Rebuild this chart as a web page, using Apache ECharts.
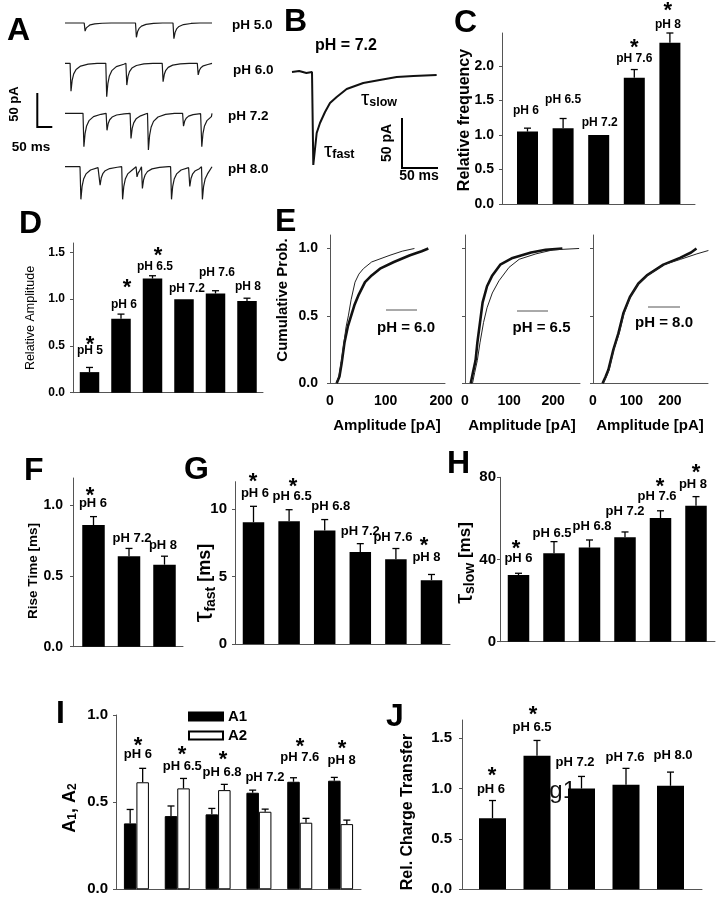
<!DOCTYPE html>
<html><head><meta charset="utf-8">
<script src="https://cdn.jsdelivr.net/npm/echarts@6/dist/echarts.min.js"></script>
<style>html,body{margin:0;padding:0;background:#fff}#c{width:719px;height:899px}</style>
</head><body><div id="c"></div>
<script>
// ================= DATA =================
// Panel A: miniature currents, events as [time ms, amplitude pA]
const aLabels = ['pH 5.0', 'pH 6.0', 'pH 7.2', 'pH 8.0'];
const aEvents50 = [[64, 12], [235, 21], [360, 23]];
const aEvents60 = [[17, 41], [136, 49], [203, 32], [324, 27], [441, 17]];
const aEvents72 = [[60, 49], [137, 25], [217, 37], [275, 54], [392, 19], [453, 49]];
const aEvents80 = [[50, 48], [114, 27], [189, 48], [237, 15], [255, 32], [352, 48], [413, 29], [455, 48]];
// shape of one event: [ms after onset, fraction of amplitude]
const eventShape = [[0, 0], [3, -1], [7, -0.6], [12, -0.38], [20, -0.22], [35, -0.1], [60, -0.03], [90, 0]];
// Panel B: averaged current at pH 7.2, [ms, pA]
const bTrace = [[0, 0], [10, 1], [20, -1], [27.8, 0], [29.6, -93], [34.3, -61], [38.9, -51], [45.9, -40], [52.8, -31],
  [62.1, -25], [76, -17], [99, -11], [122, -8], [145.5, -5], [168.6, -4], [201, -3]];

// Panel C: relative frequency
const cCats = ['pH 6', 'pH 6.5', 'pH 7.2', 'pH 7.6', 'pH 8'];
const cMean = [1.05, 1.10, 1.00, 1.83, 2.34];
const cErr = [0.05, 0.14, 0, 0.12, 0.14];
const cStar = [0, 0, 0, 1, 1];
const cTicks = ['0.0', '0.5', '1.0', '1.5', '2.0'];

// Panel D: relative amplitude
const dCats = ['pH 5', 'pH 6', 'pH 6.5', 'pH 7.2', 'pH 7.6', 'pH 8'];
const dMean = [0.22, 0.79, 1.22, 1.00, 1.06, 0.98];
const dErr = [0.05, 0.05, 0.03, 0, 0.03, 0.03];
const dStar = [1, 1, 1, 0, 0, 0];
const dTicks = ['0.0', '0.5', '1.0', '1.5'];

// Panel E: cumulative amplitude distributions [pA, prob]; thick = control pH 7.2, thin = test pH
const e60Ctrl = [[12, 0], [17, 0.05], [21, 0.15], [26, 0.3], [32, 0.42], [38, 0.5], [44, 0.58], [52, 0.66], [63, 0.75], [75, 0.8], [90, 0.85], [115, 0.9], [144, 0.95], [165, 0.98], [177, 1.0]];
const e60Test = [[11, 0], [16, 0.05], [20, 0.15], [25, 0.3], [29, 0.42], [33, 0.5], [38, 0.62], [45, 0.75], [52, 0.81], [60, 0.85], [75, 0.9], [108, 0.95], [130, 0.98], [152, 1.0]];
const e65Ctrl = [[13, 0], [18, 0.08], [24, 0.17], [28, 0.3], [34, 0.45], [40, 0.6], [50, 0.72], [62, 0.8], [80, 0.88], [108, 0.93], [150, 0.97], [183, 0.99], [221, 1.0]];
const e65Test = [[17, 0], [22, 0.08], [28, 0.17], [34, 0.3], [42, 0.45], [50, 0.56], [62, 0.67], [77, 0.76], [100, 0.86], [123, 0.92], [161, 0.96], [200, 0.99], [259, 1.0]];
const e80Ctrl = [[25, 0], [33, 0.05], [40, 0.1], [53, 0.25], [66, 0.37], [79, 0.52], [96, 0.64], [118, 0.74], [140, 0.8], [183, 0.88], [226, 0.93], [255, 0.97], [269, 1.0]];
const e80Test = [[27, 0], [35, 0.05], [42, 0.1], [54, 0.25], [68, 0.37], [81, 0.52], [97, 0.64], [118, 0.74], [142, 0.8], [185, 0.88], [228, 0.92], [270, 0.96], [300, 0.985]];
const eLabels = ['pH = 6.0', 'pH = 6.5', 'pH = 8.0'];
const eYTicks = ['0.0', '0.5', '1.0'];
const eXTicks = [0, 100, 200];

// Panel F: rise time
const fCats = ['pH 6', 'pH 7.2', 'pH 8'];
const fMean = [0.86, 0.64, 0.58];
const fErr = [0.06, 0.055, 0.06];
const fStar = [1, 0, 0];
const fTicks = ['0.0', '0.5', '1.0'];

// Panel G: tau fast
const gCats = ['pH 6', 'pH 6.5', 'pH 6.8', 'pH 7.2', 'pH 7.6', 'pH 8'];
const gMean = [9.0, 9.07, 8.4, 6.8, 6.27, 4.72];
const gErr = [1.18, 0.86, 0.8, 0.62, 0.79, 0.42];
const gStar = [1, 1, 0, 0, 0, 1];
const gTicks = ['0', '5', '10'];

// Panel H: tau slow
const hCats = ['pH 6', 'pH 6.5', 'pH 6.8', 'pH 7.2', 'pH 7.6', 'pH 8'];
const hMean = [32.4, 43.0, 45.8, 50.8, 60.2, 66.2];
const hErr = [0.9, 5.7, 3.7, 2.6, 3.5, 4.4];
const hStar = [1, 0, 0, 0, 1, 1];
const hTicks = ['0', '40', '80'];

// Panel I: A1, A2
const iCats = ['pH 6', 'pH 6.5', 'pH 6.8', 'pH 7.2', 'pH 7.6', 'pH 8'];
const iA1 = [0.378, 0.42, 0.43, 0.554, 0.617, 0.623];
const iA1Err = [0.08, 0.058, 0.034, 0.015, 0.023, 0.019];
const iA2 = [0.614, 0.579, 0.569, 0.445, 0.382, 0.374];
const iA2Err = [0.08, 0.057, 0.033, 0.015, 0.025, 0.023];
const iStar = [1, 1, 1, 0, 1, 1];
const iTicks = ['0.0', '0.5', '1.0'];

// Panel J: relative charge transfer
const jCats = ['pH 6', 'pH 6.5', 'pH 7.2', 'pH 7.6', 'pH 8.0'];
const jMean = [0.706, 1.325, 1.0, 1.037, 1.027];
const jErr = [0.175, 0.152, 0.12, 0.163, 0.136];
const jStar = [1, 1, 0, 0, 0];
const jTicks = ['0.0', '0.5', '1.0', '1.5'];

// ================= LAYOUT / STYLE =================
const FONT = '"Liberation Sans", Arial, Helvetica, sans-serif';
const AX = '#555';
const STAR_FONT = 22;
const option = { animation: false, backgroundColor: '#fff', grid: [], xAxis: [], yAxis: [], series: [], graphic: [] };

function addGrid(rect, xa, ya) {
  const gi = option.grid.length;
  option.grid.push(Object.assign({ containLabel: false, show: false }, rect));
  option.xAxis.push(Object.assign({ gridIndex: gi }, xa));
  option.yAxis.push(Object.assign({ gridIndex: gi }, ya));
  return gi;
}
function hidden(min, max) { return { type: 'value', min: min, max: max, show: false, splitLine: { show: false } }; }
function font(size, weight) { return (weight || 'bold') + ' ' + size + 'px ' + FONT; }

function buildTrace(events, shape, tEnd) {
  const pts = [[0, 0]];
  events.forEach(function (ev, k) {
    const next = k + 1 < events.length ? events[k + 1][0] : tEnd;
    shape.forEach(function (s) { const t = ev[0] + s[0]; if (t < next) pts.push([t, s[1] * ev[1]]); });
  });
  pts.push([tEnd, 0]);
  return pts;
}

function yAxisCfg(yMax, ticks, tickFont, margin, showLabels) {
  const tv = ticks.map(Number);
  return {
    type: 'value', min: 0, max: yMax,
    axisLine: { show: true, onZero: false, lineStyle: { color: AX, width: 1 } },
    axisTick: { show: true, length: 3, lineStyle: { color: AX }, customValues: tv },
    axisLabel: { show: showLabels !== false, customValues: tv, formatter: function (v) { const k = tv.indexOf(v); return k >= 0 ? ticks[k] : ''; },
      fontSize: tickFont, fontWeight: 'bold', fontFamily: FONT, color: '#000', margin: margin },
    splitLine: { show: false }
  };
}

function errSeries(gi, data, off) {
  return {
    type: 'custom', xAxisIndex: gi, yAxisIndex: gi, z: 4, silent: true, data: data,
    renderItem: function (params, api) {
      const x = api.value(0), m = api.value(1), e = api.value(2);
      if (!e) return null;
      const p0 = api.coord([x, m]), p1 = api.coord([x, m + e]);
      const cx = p0[0] + off;
      return { type: 'group', children: [
        { type: 'line', shape: { x1: cx, y1: p0[1], x2: cx, y2: p1[1] }, style: { stroke: '#000', lineWidth: 1.3 } },
        { type: 'line', shape: { x1: cx - 3.5, y1: p1[1], x2: cx + 3.5, y2: p1[1] }, style: { stroke: '#000', lineWidth: 1.3 } }
      ] };
    }
  };
}

function labSeries(gi, data, cats, stars, lay, labFont) {
  return {
    type: 'custom', xAxisIndex: gi, yAxisIndex: gi, z: 6, silent: true, data: data,
    renderItem: function (params, api) {
      const i = params.dataIndex;
      const p = api.coord([api.value(0), api.value(1)]);
      const lx = p[0] + lay.dx[i], ly = p[1] - lay.dy[i];
      const ch = [{ type: 'text', style: { text: cats[i], x: lx, y: ly, textAlign: 'center', align: 'center', textVerticalAlign: 'middle', verticalAlign: 'middle', font: font(labFont), fill: '#000' } }];
      if (stars[i]) ch.push({ type: 'text', style: { text: '*', x: p[0] + lay.sdx[i], y: ly - lay.sdy[i] + 0.22 * STAR_FONT, textAlign: 'center', align: 'center', textVerticalAlign: 'middle', verticalAlign: 'middle', font: font(STAR_FONT), fill: '#000' } });
      return { type: 'group', children: ch };
    }
  };
}

function barPanel(c) {
  const xmin = (c.rect.left - c.c0) / c.sp, xmax = (c.rect.left + c.rect.width - c.c0) / c.sp;
  const gi = addGrid(c.rect,
    { type: 'value', min: xmin, max: xmax, axisLine: { show: true, onZero: false, lineStyle: { color: AX, width: 1 } }, axisTick: { show: false }, axisLabel: { show: false }, splitLine: { show: false } },
    yAxisCfg(c.yMax, c.ticks, c.tickFont, c.margin));
  option.series.push({ type: 'bar', xAxisIndex: gi, yAxisIndex: gi, data: c.vals.map(function (v, i) { return [i, v]; }), barWidth: c.barWidth, itemStyle: { color: '#000' }, z: 3, silent: true });
  option.series.push(errSeries(gi, c.vals.map(function (v, i) { return [i, v, c.errs[i]]; }), 0));
  option.series.push(labSeries(gi, c.vals.map(function (v, i) { return [i, v + c.errs[i]]; }), c.cats, c.stars, c.lay, c.labFont));
}

function gtext(x, y, text, f, opts) {
  opts = opts || {};
  const el = { type: 'text', x: x, y: y, rotation: opts.rot || 0, z: opts.z == null ? 10 : opts.z,
    style: { text: text, font: f, fill: opts.fill || '#000', textAlign: opts.align || 'center', align: opts.align || 'center', textVerticalAlign: 'middle', verticalAlign: 'middle' } };
  if (opts.rich) el.style.rich = opts.rich;
  option.graphic.push(el);
}
function gline(points, w, color) {
  option.graphic.push({ type: 'polyline', z: 10, shape: { points: points }, style: { stroke: color || '#000', lineWidth: w, fill: null } });
}

// ---- Panel A traces ----
const aTraces = [aEvents50, aEvents60, aEvents72, aEvents80];
const aBase = [23, 63.3, 113.3, 166.7];
aTraces.forEach(function (ev, k) {
  const gi = addGrid({ left: 65, top: aBase[k] - 6.8, width: 147, height: 47.6 }, hidden(0, 490), hidden(-60, 10));
  option.series.push({ type: 'line', xAxisIndex: gi, yAxisIndex: gi, data: buildTrace(ev, eventShape, 490), showSymbol: false, silent: true,
    lineStyle: { color: '#1a1a1a', width: 1.2 } });
});
const aLabY = [25.5, 70, 116, 169];
aLabels.forEach(function (t, k) { gtext(k === 1 ? 233 : (k === 0 ? 232 : 228), aLabY[k], t, font(13.5), { align: 'left' }); });
gline([[37.3, 93], [37.3, 127], [52.3, 127]], 2);
gtext(14, 104, '50 pA', font(13), { rot: Math.PI / 2 });
gtext(31, 147.5, '50 ms', font(13.5));

// ---- Panel B ----
const giB = addGrid({ left: 292, top: 67, width: 145, height: 100 }, hidden(0, 201.5), hidden(-95, 5));
option.series.push({ type: 'line', xAxisIndex: giB, yAxisIndex: giB, data: bTrace, showSymbol: false, silent: true, lineStyle: { color: '#111', width: 2 } });
gtext(346, 46, 'pH = 7.2', font(16));
gline([[402, 118], [402, 168], [438, 168]], 2);
gtext(387.5, 143, '50 pA', font(14), { rot: Math.PI / 2 });
gtext(419, 176, '50 ms', font(14));
const tauRich = { t: { font: '21px ' + FONT, fill: '#000' }, s: { font: font(12.5), fill: '#000', verticalAlign: 'bottom' } };
gtext(361, 99, '{t|τ}{s|slow}', font(12), { align: 'left', rich: tauRich });
gtext(324, 151, '{t|τ}{s|fast}', font(12), { align: 'left', rich: tauRich });

// ---- Panel C ----
barPanel({ rect: { left: 502, top: 33, width: 193, height: 171 }, c0: 527.5, sp: 35.6, yMax: 2.48, ticks: cTicks, tickFont: 14, margin: 8,
  vals: cMean, errs: cErr, cats: cCats, stars: cStar, barWidth: 21, labFont: 12,
  lay: { dy: [17, 19, 12, 11, 8], dx: [-1.5, 0, 1, 0, -2], sdy: [0, 0, 0, 15, 19], sdx: [0, 0, 0, 0, -2] } });
gtext(465, 120, 'Relative frequency', font(16), { rot: Math.PI / 2 });

// ---- Panel D ----
barPanel({ rect: { left: 73, top: 243, width: 190, height: 149.7 }, c0: 89.5, sp: 31.5, yMax: 1.6, ticks: dTicks, tickFont: 12, margin: 8,
  vals: dMean, errs: dErr, cats: dCats, stars: dStar, barWidth: 19.5, labFont: 12,
  lay: { dy: [17, 9, 9, 10, 18, 12], dx: [0.5, 3, 2.5, 3, 1.5, 1], sdy: [10, 22, 16, 0, 0, 0], sdx: [0.5, 6, 5.5, 0, 0, 0] } });
gtext(31, 318, 'Relative Amplitude', font(12.5, 'normal'), { rot: Math.PI / 2 });

// ---- Panel E ----
const eSets = [[e60Ctrl, e60Test, 330, 207], [e65Ctrl, e65Test, 465, 261], [e80Ctrl, e80Test, 593, 299]];
const eLine = [[386, 417, 310], [517, 548, 311], [648, 680, 307]];
const eLab = [[406, 328], [541.5, 328], [664, 323]];
eSets.forEach(function (s, k) {
  const gi = addGrid({ left: s[2], top: 235, width: 115, height: 148.3 },
    { type: 'value', min: 0, max: s[3], axisLine: { show: true, onZero: false, lineStyle: { color: AX } }, axisTick: { show: false },
      axisLabel: { customValues: eXTicks, fontSize: 14, fontWeight: 'bold', fontFamily: FONT, color: '#000', margin: 11 }, splitLine: { show: false } },
    yAxisCfg(1.1, eYTicks, 14, 12, k === 0));
  option.series.push({ type: 'line', xAxisIndex: gi, yAxisIndex: gi, data: s[0], showSymbol: false, silent: true, lineStyle: { color: '#111', width: 2.6 } });
  option.series.push({ type: 'line', xAxisIndex: gi, yAxisIndex: gi, data: s[1], showSymbol: false, silent: true, lineStyle: { color: '#222', width: 1 } });
  gline([[eLine[k][0], eLine[k][2]], [eLine[k][1], eLine[k][2]]], 1, '#555');
  gtext(eLab[k][0], eLab[k][1], eLabels[k], font(15));
  gtext(s[2] + 57, 426, 'Amplitude [pA]', font(15));
});
gtext(283, 300, 'Cumulative Prob.', font(15), { rot: Math.PI / 2 });

// ---- Panel F ----
barPanel({ rect: { left: 73, top: 478, width: 110, height: 168.7 }, c0: 93.5, sp: 35.5, yMax: 1.193, ticks: fTicks, tickFont: 14, margin: 10,
  vals: fMean, errs: fErr, cats: fCats, stars: fStar, barWidth: 22.5, labFont: 13,
  lay: { dy: [12.7, 10, 10.7], dx: [-0.5, 3, -1.5], sdy: [13, 0, 0], sdx: [-3.5, 0, 0] } });
gtext(33, 571, 'Rise Time [ms]', font(13.5), { rot: Math.PI / 2 });

// ---- Panel G ----
barPanel({ rect: { left: 235, top: 481.7, width: 215, height: 162.3 }, c0: 253.5, sp: 35.6, yMax: 12, ticks: gTicks, tickFont: 15, margin: 8,
  vals: gMean, errs: gErr, cats: gCats, stars: gStar, barWidth: 21.5, labFont: 13,
  lay: { dy: [13, 13, 13, 12, 11, 17], dx: [1.5, 3, 6, 0, -3, -5], sdy: [16, 15, 0, 0, 0, 16], sdx: [-0.5, 4, 0, 0, 0, -7.5] } });
const tauName = { t: { font: '27px ' + FONT, fill: '#000' }, s: { font: font(14), fill: '#000', verticalAlign: 'bottom' }, n: { font: font(18), fill: '#000' } };
gtext(205, 583, '{t|τ}{s|fast}{n| [ms]}', font(18), { rot: Math.PI / 2, rich: tauName });

// ---- Panel H ----
barPanel({ rect: { left: 500, top: 477.3, width: 215, height: 164.4 }, c0: 518.5, sp: 35.5, yMax: 80, ticks: hTicks, tickFont: 15, margin: 4,
  vals: hMean, errs: hErr, cats: hCats, stars: hStar, barWidth: 21.5, labFont: 13,
  lay: { dy: [15, 8, 14, 21, 14, 12], dx: [0, -2, 2.5, 0, -3.5, -3], sdy: [14, 0, 0, 0, 15, 17], sdx: [-2.5, 0, 0, 0, -0.5, 0] } });
const tauName2 = { t: { font: '25px ' + FONT, fill: '#000' }, s: { font: font(14), fill: '#000', verticalAlign: 'bottom' }, n: { font: font(17), fill: '#000' } };
gtext(465, 563, '{t|τ}{s|slow}{n| [ms]}', font(17), { rot: Math.PI / 2, rich: tauName2 });

// ---- Panel I ----
(function () {
  const gi = addGrid({ left: 116, top: 715, width: 245, height: 174.3 },
    { type: 'category', data: iCats, axisLine: { show: true, onZero: false, lineStyle: { color: AX } }, axisTick: { show: false }, axisLabel: { show: false }, splitLine: { show: false } },
    yAxisCfg(1.0, iTicks, 15, 8));
  option.series.push({ name: 'A1', type: 'bar', xAxisIndex: gi, yAxisIndex: gi, data: iA1, barWidth: 12.5, barGap: '0%', itemStyle: { color: '#000', borderColor: '#000', borderWidth: 1 }, z: 3, silent: true });
  option.series.push({ name: 'A2', type: 'bar', xAxisIndex: gi, yAxisIndex: gi, data: iA2, barWidth: 12.5, barGap: '0%', itemStyle: { color: '#fff', borderColor: '#000', borderWidth: 1 }, z: 3, silent: true });
  option.series.push(errSeries(gi, iA1.map(function (v, i) { return [i, v, iA1Err[i]]; }), -6.25));
  option.series.push(errSeries(gi, iA2.map(function (v, i) { return [i, v, iA2Err[i]]; }), 6.25));
  option.series.push(labSeries(gi, iA1.map(function (v, i) { return [i, Math.max(v + iA1Err[i], iA2[i] + iA2Err[i])]; }), iCats, iStar,
    { dy: [14, 12, 12, 13, 20, 17], dx: [1.5, 5, 4, 6, 0, 1], sdy: [13, 16, 17, 0, 16, 16], sdx: [1.5, 4.75, 4.9, 0, 0.25, 1.4] }, 13));
  option.legend = { left: 183, top: 704, orient: 'vertical', itemWidth: 34, itemHeight: 8, itemGap: 4, icon: 'rect', selectedMode: false,
    data: ['A1', 'A2'], textStyle: { fontSize: 15, fontWeight: 'bold', fontFamily: FONT, color: '#000' } };
})();
gtext(70, 808, '{a|A}{s|1}{a|, A}{s|2}', font(18), { rot: Math.PI / 2, rich: { a: { font: font(18), fill: '#000' }, s: { font: font(12), fill: '#000', verticalAlign: 'bottom' } } });

// ---- Panel J ----
gtext(576, 791, 'Fig1', '24px ' + FONT, { align: 'right', z: 0, fill: '#111' });
barPanel({ rect: { left: 462, top: 720, width: 240, height: 169.3 }, c0: 492.5, sp: 44.5, yMax: 1.68, ticks: jTicks, tickFont: 15, margin: 10,
  vals: jMean, errs: jErr, cats: jCats, stars: jStar, barWidth: 27, labFont: 13,
  lay: { dy: [11, 13, 14, 11, 17], dx: [-1.5, -5, -6.5, -1, 2.5], sdy: [18, 17, 0, 0, 0], sdx: [-0.5, -4, 0, 0, 0] } });
gtext(408, 812, 'Rel. Charge Transfer', font(16), { rot: Math.PI / 2 });

// ---- panel letters ----
[['A', 7, 31], ['B', 284, 22.5], ['C', 454, 23], ['D', 19, 224], ['E', 275, 222], ['F', 24, 471], ['G', 184, 470], ['H', 447, 464], ['I', 56, 714], ['J', 386, 717.5]]
  .forEach(function (l) { gtext(l[1], l[2], l[0], font(32), { align: 'left' }); });

const chart = echarts.init(document.getElementById('c'), null, { renderer: 'canvas' });
chart.setOption(option);
</script></body></html>
